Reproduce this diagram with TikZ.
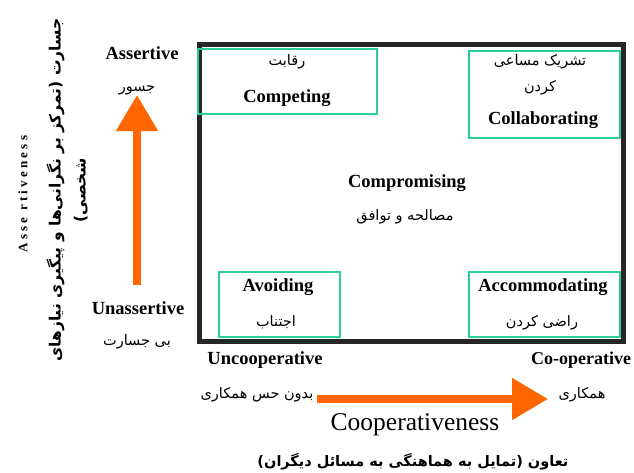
\documentclass[tikz,border=0pt]{standalone}
\usepackage{fontspec}
\setmainfont{Liberation Serif}
\newfontfamily\fa[Script=Arabic]{DejaVu Sans}
\TeXXeTstate=1
\usetikzlibrary{arrows.meta}
\definecolor{tealbox}{RGB}{44,206,150}
\definecolor{orng}{RGB}{255,102,0}
\begin{document}
\begin{tikzpicture}[x=1pt,y=-1pt,
  en/.style={font=\fontsize{18.5}{21}\selectfont\bfseries, inner sep=0},
  fa/.style={font=\fa\fontsize{14.5}{16}\selectfont, inner sep=0},
  qbox/.style={draw=tealbox, line width=1.4pt, inner sep=0},
  arr/.style={draw=orng, line width=8pt, -{Triangle[width=40pt,length=36pt]}}]
\useasboundingbox (0,0) rectangle (634,472);
\fill[white] (0,0) rectangle (634,472);

% frame
\node[draw=black!85, line width=5pt, minimum width=424pt, minimum height=296.5pt, inner sep=0] (frame) at (411.5,192.75) {};

% quadrant boxes
\node[qbox, minimum width=179pt, minimum height=65pt] (compbox) at (287.5,81.5) {};
\node[qbox, minimum width=151pt, minimum height=87pt] (collbox) at (544.5,94.5) {};
\node[qbox, minimum width=121pt, minimum height=65pt] (avoidbox) at (279.5,304.5) {};
\node[qbox, minimum width=151pt, minimum height=65pt] (accbox) at (544.5,304.5) {};

% box texts
\node[fa] (compfa) at (287,62) {\beginR رقابت\endR};
\node[en] (comp) at (287,98) {Competing};
\node[fa] (collfa1) at (540,62) {\beginR تشریک مساعی\endR};
\node[fa] (collfa2) at (540,88) {\beginR کردن\endR};
\node[en] (coll) at (543,120) {Collaborating};
\node[en] (compro) at (407,183) {Compromising};
\node[fa] (comprofa) at (405,217) {\beginR مصالحه و توافق\endR};
\node[en] (avoid) at (278,287) {Avoiding};
\node[fa] (avoidfa) at (276,322) {\beginR اجتناب\endR};
\node[en] (acc) at (543,287) {Accommodating};
\node[fa] (accfa) at (542,323) {\beginR راضی کردن\endR};

% vertical axis labels
\node[en] (assert) at (142,53) {Assertive};
\node[fa] (assertfa) at (137,90) {\beginR جسور\endR};
\node[en] (unassert) at (138,308) {Unassertive};
\node[fa] (unassertfa) at (137,342) {\beginR بی جسارت\endR};

% horizontal axis labels
\node[en] (uncoop) at (265,360) {Uncooperative};
\node[fa] (uncoopfa) at (257,395) {\beginR بدون حس همکاری\endR};
\node[en, font=\fontsize{18}{21}\selectfont\bfseries, anchor=west] (coop) at (531,360) {Co-operative};
\node[fa] (coopfa) at (582,395) {\beginR همکاری\endR};
\node[font=\fontsize{25.5}{28}\selectfont, inner sep=0] (coopness) at (415,425) {Cooperativeness};
\node[font=\fa\bfseries\fontsize{14.5}{16}\selectfont, inner sep=0] (coopnessfa) at (413,462) {\beginR تعاون (تمایل به هماهنگی به مسائل دیگران)\endR};

% rotated axis titles
\node[rotate=90, font=\fontsize{13}{15}\selectfont\bfseries\addfontfeatures{LetterSpace=25}, inner sep=0] (assertness) at (23,194) {Asse rtiveness};
\node[rotate=90, align=center, font=\fa\bfseries\fontsize{15.5}{25}\selectfont, inner sep=0] (assertnessfa) at (67,190) {\beginR جسارت (تمرکز بر نگرانی‌ها و پیگیری نیازهای\endR\\ \beginR شخصی)\endR};

% arrows
\coordinate (vstart) at (137,285);
\coordinate (vend) at (137,95);
\draw[arr] (vstart) -- (vend);
\coordinate (hstart) at (317,399);
\coordinate (hend) at (548,399);
\draw[arr] (hstart) -- (hend);
\end{tikzpicture}
\end{document}
